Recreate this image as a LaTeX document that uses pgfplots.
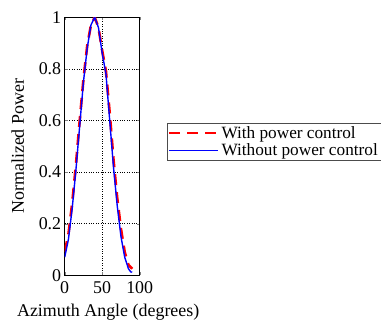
\documentclass[border=0pt]{standalone}
\usepackage{fontspec}
\setmainfont{Liberation Serif}
\newfontfamily\timesfont{Liberation Serif}
\usepackage{pgfplots}
\pgfplotsset{compat=1.18}
\begin{document}
\begin{tikzpicture}[font=\timesfont]
\begin{axis}[
  scale only axis,
  width=75bp, height=258bp,
  xmin=0, xmax=100, ymin=0, ymax=1,
  xtick={0,50,100}, ytick={0,0.2,0.4,0.6,0.8,1},
  yticklabels={0,0.2,0.4,0.6,0.8,1},
  /pgf/number format/assume math mode=true,
  tick label style={font=\timesfont\fontsize{18}{20}\selectfont},
  label style={font=\timesfont\fontsize{18}{20}\selectfont},
  xticklabel style={yshift=-3bp},
  xlabel={Azimuth Angle (degrees)},
  ylabel={Normalized Power},
  xlabel style={yshift=-3bp, xshift=6bp},
  ylabel style={yshift=8bp},
  grid=major,
  grid style={black, dotted, line width=0.6pt},
  tick align=inside,
  major tick length=3bp,
  axis line style={black, line width=0.6pt},
  legend style={at={(axis description cs:1.36,0.589)}, anchor=north west,
    font=\timesfont\fontsize{17.3}{21}\selectfont, draw=black!70, inner sep=1bp,
    row sep=0bp, cells={anchor=west}},
  legend image code/.code={\draw[#1] (0cm,0cm) -- (49bp,0cm);},
]
\addplot[red, line width=2.6pt, dash pattern=on 11bp off 7bp] coordinates {
(0,0.09) (5,0.16) (10,0.28) (15,0.43) (20,0.60) (25,0.76) (30,0.89) (35,0.97)
(40,1.00) (45,0.96) (50,0.87) (55,0.79) (60,0.63) (65,0.45) (70,0.30) (75,0.18)
(80,0.09) (85,0.04) (90,0.025)};
\addlegendentry{With power control}
\addplot[blue, line width=1.4pt] coordinates {
(0,0.07) (5,0.14) (10,0.26) (15,0.41) (20,0.58) (25,0.75) (30,0.88) (35,0.97)
(40,1.00) (45,0.96) (50,0.86) (55,0.78) (60,0.60) (65,0.42) (70,0.27) (75,0.15)
(80,0.07) (85,0.025) (88,0.013) (90,0.012)};
\addlegendentry{Without power control}
\end{axis}
\path (current bounding box.north west) ++(-8bp,8bp);
\end{tikzpicture}
\end{document}
